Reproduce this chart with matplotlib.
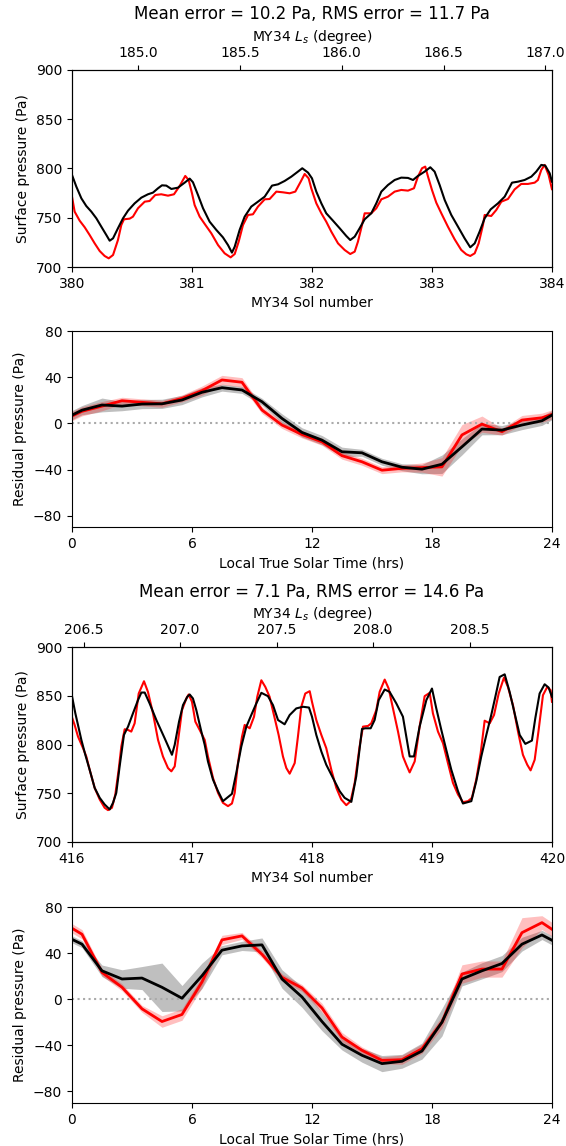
import numpy as np
import matplotlib
matplotlib.use("Agg")
import matplotlib.pyplot as plt
from matplotlib.ticker import FormatStrFormatter

# ---- sols 380-384: surface pressure (Pa) ----
sol_obs_a = [380.0, 380.022, 380.064, 380.106, 380.147, 380.189, 380.231, 380.272, 380.306, 380.342,
             380.383, 380.411, 380.433, 380.481, 380.508, 380.55, 380.606, 380.647, 380.694, 380.744,
             380.8, 380.85, 380.897, 380.944, 380.972, 381.0, 381.022, 381.064, 381.106, 381.161,
             381.217, 381.272, 381.322, 381.356, 381.389, 381.425, 381.467, 381.508, 381.55, 381.606,
             381.647, 381.703, 381.758, 381.814, 381.861, 381.906, 381.939, 381.972,
             381.994, 382.036, 382.078, 382.119, 382.161, 382.217, 382.272, 382.319, 382.356, 382.383,
             382.417, 382.439, 382.494, 382.536, 382.578, 382.633, 382.689, 382.744, 382.8, 382.85,
             382.883, 382.917, 382.944, 382.967, 383.0, 383.036, 383.078, 383.133, 383.189, 383.244,
             383.286, 383.319, 383.356, 383.389, 383.425, 383.439, 383.494, 383.536, 383.578, 383.633,
             383.689, 383.744, 383.8, 383.856, 383.883, 383.911, 383.939, 383.972, 384.0]
p_obs_a = [771.4, 756.2, 747.0, 740.3, 732.5, 724.0, 716.2, 711.2, 708.8, 712.2,
           727.4, 742.6, 748.4, 749.1, 751.1, 759.6, 766.3, 767.0, 773.1, 773.8,
           772.4, 773.8, 782.2, 792.4, 788.3, 774.8, 762.9, 751.1, 743.7, 734.2,
           722.3, 713.9, 709.8, 713.2, 725.7, 742.6, 752.8, 753.5, 761.3, 768.7,
           769.0, 776.5, 775.8, 774.8, 776.5, 786.6, 794.4, 790.0,
           779.9, 764.6, 754.5, 746.0, 735.9, 724.0, 717.3, 713.2, 715.6, 725.7,
           742.6, 754.5, 754.5, 759.6, 768.7, 771.4, 776.5, 778.2, 777.5, 779.9,
           791.7, 800.2, 801.9, 791.7, 778.2, 765.3, 754.5, 740.9, 728.1, 717.3,
           712.9, 711.2, 713.9, 724.0, 742.6, 752.8, 751.8, 757.9, 766.3, 769.0,
           778.8, 784.3, 784.3, 785.6, 788.3, 798.5, 803.6, 793.4, 779.0]

sol_mod_a = [380.0, 380.036, 380.078, 380.119, 380.161, 380.203, 380.244, 380.286, 380.314, 380.342,
             380.383, 380.425, 380.467, 380.522, 380.578, 380.633, 380.675, 380.717, 380.75, 380.786,
             380.828, 380.883, 380.939, 380.981, 381.008, 381.05, 381.092, 381.147, 381.203, 381.258,
             381.3, 381.333, 381.356, 381.397, 381.439, 381.494, 381.55, 381.606, 381.667, 381.717,
             381.772, 381.828, 381.883, 381.919, 381.967,
             382.0, 382.036, 382.078, 382.119, 382.175, 382.231, 382.286, 382.319, 382.356, 382.397,
             382.439, 382.494, 382.536, 382.578, 382.633, 382.689, 382.744, 382.8, 382.842, 382.883,
             382.939, 382.986, 383.022, 383.064, 383.106, 383.161, 383.217, 383.272, 383.319, 383.356,
             383.397, 383.439, 383.489, 383.55, 383.606, 383.667, 383.717, 383.772, 383.828, 383.869,
             383.911, 383.944, 383.981, 384.0]
p_mod_a = [793.4, 781.6, 769.7, 761.9, 756.2, 749.4, 741.0, 732.5, 726.7, 729.1,
           739.3, 749.4, 757.2, 764.6, 770.4, 773.8, 775.5, 779.9, 782.9, 782.6,
           779.2, 780.5, 785.6, 789.7, 786.0, 773.1, 759.6, 746.0, 737.6, 730.1,
           722.3, 714.6, 720.6, 737.6, 751.1, 761.3, 766.3, 771.4, 782.6, 783.9,
           787.3, 791.7, 796.8, 800.2, 795.8,
           790.0, 776.5, 764.6, 754.5, 747.0, 739.3, 731.5, 727.4, 730.8, 739.3,
           748.4, 754.5, 764.6, 776.5, 783.2, 788.3, 790.7, 790.4, 788.3, 792.4,
           796.8, 801.2, 796.8, 783.2, 768.0, 752.8, 740.9, 729.1, 720.0, 724.0,
           735.9, 749.4, 758.5, 764.6, 771.4, 785.6, 786.6, 788.3, 791.7, 796.8,
           803.6, 802.9, 795.1, 786.6]

# ---- sols 416-420: surface pressure (Pa) ----
sol_obs_b = [416.0, 416.022, 416.05, 416.092, 416.119, 416.147, 416.189, 416.231, 416.272, 416.3,
             416.333, 416.361, 416.389, 416.411, 416.439, 416.467, 416.494, 416.522, 416.556, 416.6,
             416.633, 416.675, 416.717, 416.758, 416.8, 416.828, 416.856, 416.883, 416.917, 416.953,
             416.972, 417.0, 417.028, 417.064, 417.106, 417.133, 417.175, 417.217, 417.258, 417.3,
             417.333, 417.356, 417.383, 417.417, 417.439, 417.481, 417.517, 417.544, 417.578, 417.611,
             417.647, 417.683, 417.722, 417.758, 417.786, 417.814, 417.856, 417.883, 417.911, 417.944,
             417.981, 418.0, 418.036, 418.078, 418.119, 418.161, 418.203, 418.244, 418.286, 418.322,
             418.356, 418.397, 418.425, 418.467, 418.494, 418.536, 418.564, 418.606, 418.639, 418.675,
             418.717, 418.758, 418.786, 418.814, 418.856, 418.897, 418.939, 418.981, 419.008, 419.05,
             419.092, 419.133, 419.175, 419.217, 419.258, 419.3, 419.333, 419.369, 419.406, 419.439,
             419.481, 419.517, 419.556, 419.6, 419.633, 419.675, 419.717, 419.758, 419.794, 419.822,
             419.856, 419.889, 419.925, 419.961, 419.989, 420.0]
p_obs_b = [828.0, 820.1, 808.2, 796.3, 787.8, 774.2, 755.5, 743.6, 735.1, 732.7,
           735.1, 748.7, 774.2, 798.0, 815.7, 815.0, 813.3, 821.8, 852.4, 865.0,
           854.1, 832.0, 804.8, 787.8, 775.9, 772.5, 777.6, 803.1, 835.4, 847.3,
           851.4, 843.9, 823.5, 815.0, 804.8, 787.8, 765.7, 750.4, 740.2, 736.8,
           739.5, 750.4, 781.0, 808.2, 820.1, 816.7, 828.6, 849.0, 866.0, 859.2,
           849.0, 830.3, 809.9, 787.8, 775.9, 770.1, 781.0, 808.2, 838.8, 852.4,
           854.8, 843.9, 825.2, 809.9, 796.3, 774.2, 755.5, 743.6, 737.8, 741.9,
           760.6, 798.0, 818.4, 819.1, 821.8, 835.4, 854.1, 866.7, 857.5, 837.1,
           813.3, 787.8, 779.3, 771.4, 782.7, 818.4, 849.7, 853.1, 832.0, 813.3,
           801.4, 781.0, 760.6, 748.7, 740.9, 741.9, 745.3, 764.0, 791.2, 824.5,
           821.8, 830.3, 852.4, 868.7, 859.2, 840.5, 813.3, 789.5, 779.3, 773.5,
           784.4, 815.0, 850.7, 859.2, 855.8, 843.9]

sol_mod_b = [416.0, 416.028, 416.05, 416.078, 416.111, 416.147, 416.189, 416.231, 416.272, 416.314,
             416.342, 416.369, 416.397, 416.433, 416.467, 416.508, 416.55, 416.578, 416.606, 416.647,
             416.703, 416.772, 416.833, 416.856, 416.892, 416.925, 416.961, 416.981, 417.008, 417.036,
             417.078, 417.106, 417.133, 417.175, 417.217, 417.258, 417.333, 417.369, 417.411, 417.453,
             417.494, 417.536, 417.578, 417.633, 417.675, 417.717, 417.772, 417.814, 417.869, 417.925,
             417.975, 418.0, 418.036, 418.078, 418.119, 418.175, 418.231, 418.272, 418.328, 418.369,
             418.417, 418.444, 418.489, 418.522, 418.556, 418.606, 418.647, 418.703, 418.758, 418.814,
             418.85, 418.897, 418.953, 419.0, 419.036, 419.078, 419.119, 419.161, 419.217, 419.258,
             419.328, 419.369, 419.411, 419.453, 419.494, 419.528, 419.564, 419.606, 419.647, 419.689,
             419.731, 419.778, 419.833, 419.861, 419.897, 419.939, 419.972, 420.0]
p_mod_b = [849.7, 832.0, 820.1, 804.8, 789.5, 774.2, 755.5, 745.3, 738.5, 733.4,
           740.2, 750.4, 777.6, 809.9, 818.4, 832.0, 845.6, 853.4, 853.4, 842.2,
           825.2, 806.5, 789.5, 799.7, 823.5, 840.5, 849.0, 851.4, 847.3, 835.4,
           813.3, 799.7, 782.7, 764.0, 752.1, 741.9, 749.4, 770.8, 798.0, 818.4,
           830.3, 842.2, 853.1, 849.7, 840.5, 825.2, 820.8, 830.3, 837.1, 838.8,
           838.0, 828.6, 809.9, 792.9, 779.3, 765.7, 752.1, 745.3, 741.2, 767.4,
           816.0, 816.7, 816.7, 825.2, 845.6, 856.5, 854.1, 842.2, 828.6, 787.8,
           787.8, 818.4, 845.6, 857.5, 837.1, 815.0, 794.6, 774.2, 752.1, 739.5,
           741.9, 762.3, 787.8, 809.9, 830.3, 849.0, 869.4, 872.1, 854.1, 832.0,
           809.9, 800.7, 804.1, 826.9, 852.4, 861.9, 858.5, 849.0]

# ---- diurnal residuals (Pa) vs local true solar time ----
ltst = [0, 0.5, 1.5, 2.5, 3.5, 4.5, 5.5, 6.5, 7.5, 8.5, 9.5, 10.5, 11.5, 12.5,
        13.5, 14.5, 15.5, 16.5, 17.5, 18.5, 19.5, 20.5, 21.5, 22.5, 23.5, 24]

res_obs_a = [6.4, 10.5, 15.0, 19.7, 18.3, 17.0, 21.7, 28.4, 37.7, 35.7, 11.6, -1.4, -9.6, -16.0,
             -28.0, -33.3, -40.6, -39.0, -38.3, -37.7, -10.0, -0.6, -7.2, 2.9, 4.9, 7.8]
res_obs_a_sd = [4, 4, 4, 3, 3, 3, 3, 4, 4, 4, 3, 3, 3, 3,
                3, 3, 3, 3, 4, 8, 9, 7, 3, 4, 4, 4]
res_mod_a = [7.2, 11.5, 16.0, 15.0, 16.8, 17.0, 20.3, 27.0, 31.0, 29.0, 18.8, 4.3, -7.8, -14.5,
             -24.6, -25.5, -33.3, -38.0, -39.7, -35.4, -20.3, -4.9, -5.8, -1.4, 2.3, 7.2]
res_mod_a_sd = [4, 4, 6, 4, 4, 4, 4, 4, 3, 3, 3, 4, 4, 4,
                4, 3, 3, 3, 4, 8, 7, 5, 4, 4, 4, 4]

res_obs_b = [61.6, 56.4, 23.3, 10.4, -8.3, -19.3, -13.2, 15.0, 51.5, 55.0, 39.0, 19.0, 9.8, -7.5,
             -32.8, -44.3, -53.0, -52.4, -42.9, -19.9, 21.9, 26.2, 26.2, 57.8, 66.5, 60.7]
res_obs_b_sd = [4, 4, 3, 3, 3, 5, 5, 5, 4, 3, 3, 3, 3, 4,
                4, 3, 3, 4, 4, 5, 8, 7, 7, 13, 6, 6]
res_mod_b = [52.0, 47.8, 24.7, 17.6, 18.4, 10.4, 0.9, 20.4, 42.6, 46.3, 47.2, 17.6, 2.0, -19.3,
             -39.0, -48.6, -55.8, -53.8, -44.9, -19.9, 17.6, 24.7, 31.0, 47.8, 55.8, 51.2]
res_mod_b_sd = [3, 3, 5, 8, 10, 21, 11, 11, 4, 4, 6, 8, 9, 8,
                5, 6, 7, 6, 7, 12, 6, 7, 7, 6, 4, 4]

titles = ["Mean error = 10.2 Pa, RMS error = 11.7 Pa",
          "Mean error = 7.1 Pa, RMS error = 14.6 Pa"]
ls_limits = [(184.676, 187.032), (206.440, 208.926)]
ls_ticks = [[185.0, 185.5, 186.0, 186.5, 187.0], [206.5, 207.0, 207.5, 208.0, 208.5]]
sol_ranges = [(380, 384), (416, 420)]

fig = plt.figure(figsize=(5.66, 11.46), dpi=100)
left, width = 0.1272, 0.848
boxes = [(0.767, 0.172), (0.540, 0.171), (0.2653, 0.170), (0.0375, 0.171)]


def pressure_panel(box, sol_o, p_o, sol_m, p_m, srange, lslim, lstick, title):
    ax = fig.add_axes([left, box[0], width, box[1]])
    ax.plot(sol_o, p_o, color='r', lw=1.5)
    ax.plot(sol_m, p_m, color='k', lw=1.5)
    ax.set_xlim(*srange)
    ax.set_xticks(range(srange[0], srange[1] + 1))
    ax.set_ylim(700, 900)
    ax.set_yticks([700, 750, 800, 850, 900])
    ax.set_xlabel("MY34 Sol number")
    ax.set_ylabel("Surface pressure (Pa)")
    top = ax.twiny()
    top.set_xlim(*lslim)
    top.set_xticks(lstick)
    top.xaxis.set_major_formatter(FormatStrFormatter('%.1f'))
    top.set_xlabel("MY34 $L_s$ (degree)")
    top.set_title(title, fontsize=12)
    return ax


def residual_panel(box, r_o, sd_o, r_m, sd_m):
    ax = fig.add_axes([left, box[0], width, box[1]])
    t = np.array(ltst)
    ro, so = np.array(r_o), np.array(sd_o)
    rm, sm = np.array(r_m), np.array(sd_m)
    ax.axhline(0, color='#aaaaaa', ls=':', lw=1.5)
    ax.fill_between(t, rm - sm, rm + sm, color='k', alpha=0.25, lw=0)
    ax.fill_between(t, ro - so, ro + so, color='r', alpha=0.25, lw=0)
    ax.plot(t, ro, color='r', lw=2)
    ax.plot(t, rm, color='k', lw=2)
    ax.set_xlim(0, 24)
    ax.set_xticks([0, 6, 12, 18, 24])
    ax.set_ylim(-90, 80)
    ax.set_yticks([-80, -40, 0, 40, 80])
    ax.set_xlabel("Local True Solar Time (hrs)")
    ax.set_ylabel("Residual pressure (Pa)")
    return ax


pressure_panel(boxes[0], sol_obs_a, p_obs_a, sol_mod_a, p_mod_a,
               sol_ranges[0], ls_limits[0], ls_ticks[0], titles[0])
residual_panel(boxes[1], res_obs_a, res_obs_a_sd, res_mod_a, res_mod_a_sd)
pressure_panel(boxes[2], sol_obs_b, p_obs_b, sol_mod_b, p_mod_b,
               sol_ranges[1], ls_limits[1], ls_ticks[1], titles[1])
residual_panel(boxes[3], res_obs_b, res_obs_b_sd, res_mod_b, res_mod_b_sd)

fig.savefig("out.png", dpi=100)
